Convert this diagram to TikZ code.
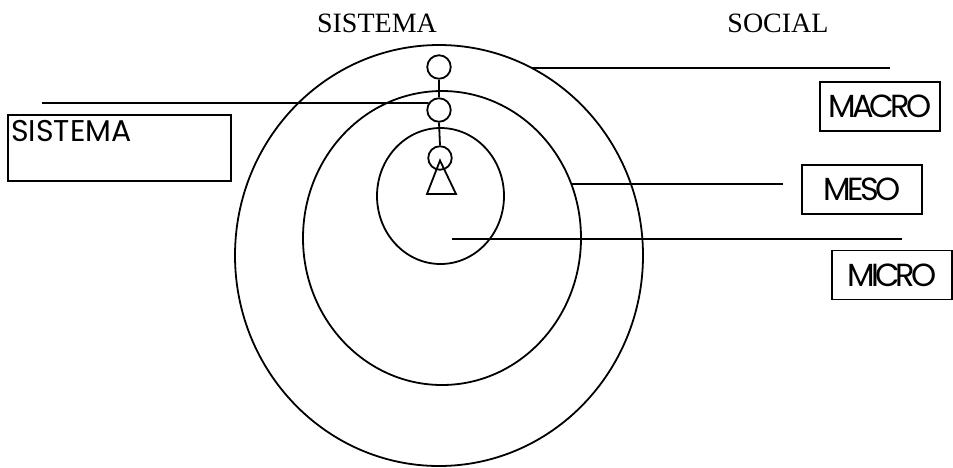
\documentclass[tikz,border=0pt]{standalone}
\usepackage{fontspec}
\setmainfont{Liberation Serif}
\newfontfamily\gothic{Poppins}
\newfontfamily\gothicsq[LetterSpace=-12]{Poppins}
\usetikzlibrary{shapes.geometric}
\begin{document}
\begin{tikzpicture}[x=1pt,y=-1pt,
  ln/.style={line width=1.8pt},
  ring/.style={ellipse,draw,line width=1.8pt,inner sep=0pt},
  dot/.style={circle,draw,line width=1.8pt,inner sep=0pt,minimum size=23.5pt},
  lvlbox/.style={draw,line width=1.8pt,inner sep=0pt,minimum width=120pt,minimum height=49pt,font=\gothicsq\fontsize{32}{36}\selectfont},
  title/.style={font=\fontsize{28}{32}\selectfont,inner sep=0pt}]
\useasboundingbox (0,0) rectangle (953,467);
% titles
\node[title] (t1) at (377,23) {SISTEMA};
\node[title] (t2) at (778,23) {SOCIAL};
% rings
\node[ring,minimum width=408pt,minimum height=421pt] (outer) at (439,255.5) {};
\node[ring,minimum width=278pt,minimum height=294pt] (middle) at (442,238) {};
\node[ring,minimum width=127pt,minimum height=136pt] (inner) at (440.5,196) {};
% circles
\node[dot] (c1) at (439,67) {};
\node[dot] (c2) at (439,110) {};
\node[dot] (c3) at (440,158) {};
\draw[ln] (c1.south) -- (c2.north);
\draw[ln] (c2.south) -- (c3.north);
% triangle
\coordinate (ta) at (440,160.5);
\coordinate (tl) at (427,194);
\coordinate (tr) at (456,194);
\draw[ln,line join=miter] (ta) -- (tl) -- (tr) -- cycle;
% boxes
\node[draw,line width=1.8pt,minimum width=223pt,minimum height=66pt,inner sep=0pt] (sbox) at (119.5,148) {};
\node[anchor=north west,inner sep=0pt,font=\gothic\fontsize{30}{34}\selectfont] (stext) at (11,120) {SISTEMA};
\node[lvlbox] (macro) at (880,106.5) {MACRO};
\node[lvlbox] (meso) at (862,189.5) {MESO};
\node[lvlbox] (micro) at (892,275) {MICRO};
% lines
\coordinate (l0) at (42,103);
\draw[ln] (l0) -- (c2.146);
\coordinate (ma) at (532,68);
\coordinate (mb) at (890,68);
\draw[ln] (ma) -- (mb);
\coordinate (mea) at (571,184);
\coordinate (meb) at (783,184);
\draw[ln] (mea) -- (meb);
\coordinate (mia) at (452,239);
\coordinate (mib) at (902,239);
\draw[ln] (mia) -- (mib);
\end{tikzpicture}
\end{document}
